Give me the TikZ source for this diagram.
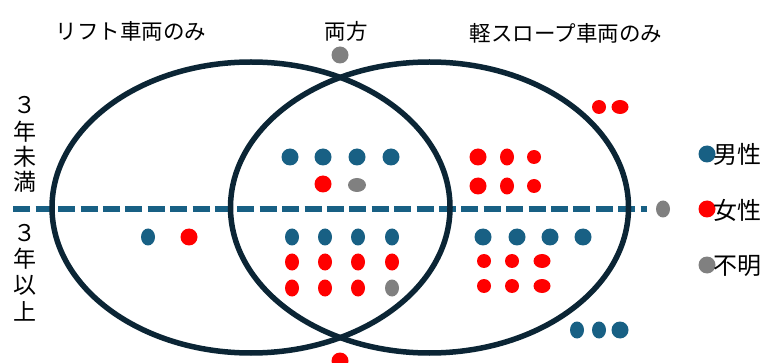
\documentclass[tikz,border=0pt]{standalone}
\usepackage{fontspec}
\setmainfont{Noto Sans CJK JP}
\definecolor{navy}{HTML}{0B2535}
\definecolor{mblue}{HTML}{186084}
\definecolor{mred}{HTML}{FF0000}
\definecolor{mgray}{HTML}{808080}
\tikzset{
  venn/.style={draw=navy,line width=5.5pt},
  divider/.style={draw=mblue,line width=5.5pt,dash pattern=on 17pt off 5.4pt},
  title/.style={font=\fontsize{21.5}{24}\selectfont,inner sep=0pt},
  agelbl/.style={font=\fontsize{23}{26}\selectfont,inner sep=0pt},
  legtxt/.style={font=\fontsize{24}{27}\selectfont,inner sep=0pt,anchor=west},
}
\newcommand{\dotB}[3][8.5]{\fill[mblue] (#2,#3) ellipse [x radius=#1pt,y radius=8.5pt];}
\newcommand{\dotR}[3][8.5]{\fill[mred] (#2,#3) ellipse [x radius=#1pt,y radius=8.5pt];}
\newcommand{\dotG}[3][8.5]{\fill[mgray] (#2,#3) ellipse [x radius=#1pt,y radius=8.5pt];}
\newcommand{\dotRs}[3][7]{\fill[mred] (#2,#3) ellipse [x radius=#1pt,y radius=7pt];}
\begin{document}
\begin{tikzpicture}[x=1pt,y=-1pt]
\useasboundingbox (0,0) rectangle (781,363);
% divider
\coordinate (dL) at (13.3,209);
\coordinate (dR) at (647,209);
\draw[divider] (dL) -- (dR);
% ellipses
\draw[venn] (251,207.5) ellipse [x radius=199pt,y radius=145.5pt];
\draw[venn] (429.5,207.5) ellipse [x radius=199pt,y radius=145.5pt];
% titles
\node[title] (t1) at (131,31) {リフト車両のみ};
\node[title] (t2) at (346,31) {両方};
\node[title] (t3) at (566,33) {軽スロープ車両のみ};
% age labels
\node[agelbl] (a1) at (25,105) {３};
\node[agelbl] (a2) at (25,132) {年};
\node[agelbl] (a3) at (25,157) {未};
\node[agelbl] (a4) at (25,182) {満};
\node[agelbl] (b1) at (25,233) {３};
\node[agelbl] (b2) at (25,259) {年};
\node[agelbl] (b3) at (25,285) {以};
\node[agelbl] (b4) at (25,311) {上};
% legend
\dotB{707}{154}
\node[legtxt] (l1) at (713,154) {男性};
\dotR{707}{209}
\node[legtxt] (l2) at (713,210) {女性};
\dotG{707}{265}
\node[legtxt] (l3) at (713,266) {不明};
% top gray
\dotG{340}{55}
% upper intersection
\dotB{290}{157}\dotB{323}{157}\dotB{357}{157}\dotB{391}{157}
\dotR{323}{184}
\fill[mgray] (357,185) ellipse [x radius=9pt,y radius=7pt];
% upper right only
\dotR{478}{157}\dotR[7]{507}{157}\dotRs{534}{157}
\dotR{478}{186}\dotR[7]{507}{186}\dotRs{534}{186}
% top right outside
\dotRs{599}{107}\dotRs[8.5]{620}{107}
% dashed end gray
\dotG[7]{663}{209}
% lower left only
\dotB[7]{148}{237}\dotR{189}{237}
% lower intersection
\dotB[7]{292}{237}\dotB[7]{325}{237}\dotB[7]{358}{237}\dotB[7]{392}{237}
\dotR[7]{292}{262}\dotR[7]{325}{262}\dotR[7]{358}{262}\dotR[7]{392}{262}
\dotR[7]{292}{288}\dotR[7]{325}{288}\dotR[7]{358}{288}\dotG[7]{392}{288}
% lower right only
\dotB{483}{237}\dotB{517}{237}\dotB{550}{237}\dotB{583}{237}
\dotRs{484}{261}\dotRs{512}{261}\dotRs[8.5]{542}{261}
\dotRs{484}{286}\dotRs{512}{286}\dotRs[8.5]{542}{286}
% bottom right outside
\dotB[7]{577}{330}\dotB[7]{599}{330}\dotB{620}{330}
% bottom red
\dotR{340}{361}
\end{tikzpicture}
\end{document}
